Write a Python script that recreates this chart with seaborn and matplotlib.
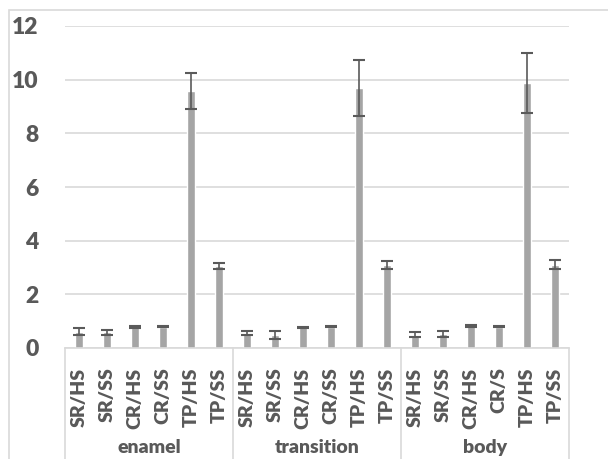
import numpy as np
import pandas as pd
import matplotlib
matplotlib.use("Agg")
import matplotlib.pyplot as plt
import seaborn as sns
from matplotlib.patches import Rectangle

sns.set_style("white")
plt.rcParams['font.family'] = ['Lato', 'DejaVu Sans']

# data
groups = ["enamel", "transition", "body"]
sub_labels = [
    ["SR/HS", "SR/SS", "CR/HS", "CR/SS", "TP/HS", "TP/SS"],
    ["SR/HS", "SR/SS", "CR/HS", "CR/SS", "TP/HS", "TP/SS"],
    ["SR/HS", "SR/SS", "CR/HS", "CR/S", "TP/HS", "TP/SS"],
]
means = [
    [0.61, 0.58, 0.78, 0.80, 9.58, 3.06],
    [0.57, 0.50, 0.78, 0.80, 9.69, 3.10],
    [0.50, 0.52, 0.82, 0.80, 9.88, 3.11],
]
errors = [
    [0.12, 0.10, 0.03, 0.03, 0.67, 0.10],
    [0.08, 0.15, 0.02, 0.02, 1.06, 0.16],
    [0.10, 0.12, 0.03, 0.02, 1.12, 0.17],
]

rows = []
for g, labs, ms, es in zip(groups, sub_labels, means, errors):
    for lab, m, e in zip(labs, ms, es):
        rows.append({"key": g + " " + lab, "group": g, "label": lab, "value": m, "err": e})
df = pd.DataFrame(rows)

W, H = 608, 459
fig = plt.figure(figsize=(W / 100, H / 100), dpi=100)
ax = fig.add_axes([65 / W, (H - 348) / H, 504 / W, 322 / H])

text_col = "#595959"
grid_col = "#D9D9D9"

sns.barplot(data=df, x="key", y="value", order=list(df["key"]), color="#A5A5A5",
            width=0.32, errorbar=None, saturation=1, ax=ax, zorder=2)
ax.errorbar(np.arange(len(df)), df["value"], yerr=df["err"], fmt="none",
            ecolor="#5A5A5A", elinewidth=1.2, capsize=4.3, capthick=1.5, zorder=3)

ax.set_xlim(-0.5, len(df) - 0.5)
ax.set_ylim(0, 12)
ax.set_yticks(range(0, 13, 2))
ax.yaxis.grid(True, color=grid_col, linewidth=1.2, zorder=0)
ax.set_axisbelow(True)
for s in ["top", "right", "left"]:
    ax.spines[s].set_visible(False)
ax.spines["bottom"].set_color(grid_col)
ax.spines["bottom"].set_linewidth(1.2)
ax.tick_params(axis="both", length=0)
ax.tick_params(axis="y", pad=19)
ax.set_yticklabels([str(v) for v in range(0, 13, 2)], fontsize=16.5,
                   fontweight="heavy", color=text_col)

ax.set_xticks(range(len(df)))
ax.set_xticklabels(df["label"], rotation=90, fontsize=14, fontweight="heavy",
                   color=text_col)
ax.tick_params(axis="x", pad=14)
ax.set_xlabel("")
ax.set_ylabel("")

# group separators and group labels
n = len(sub_labels[0])
for i in range(len(groups) + 1):
    ax.plot([i * n - 0.5, i * n - 0.5], [0, -4.2], color=grid_col, lw=1.2,
            clip_on=False, transform=ax.transData)
for i, g in enumerate(groups):
    ax.text(i * n + (n - 1) / 2, -3.72, g, ha="center", va="center", fontsize=14,
            fontweight="heavy", color=text_col, clip_on=False)

# outer chart border
fig.patches.append(Rectangle((9 / W, -0.1), 1.2, (H - 10) / H + 0.1,
                             transform=fig.transFigure, fill=False,
                             edgecolor=grid_col, linewidth=1.2))

fig.savefig("out.png", dpi=100)
